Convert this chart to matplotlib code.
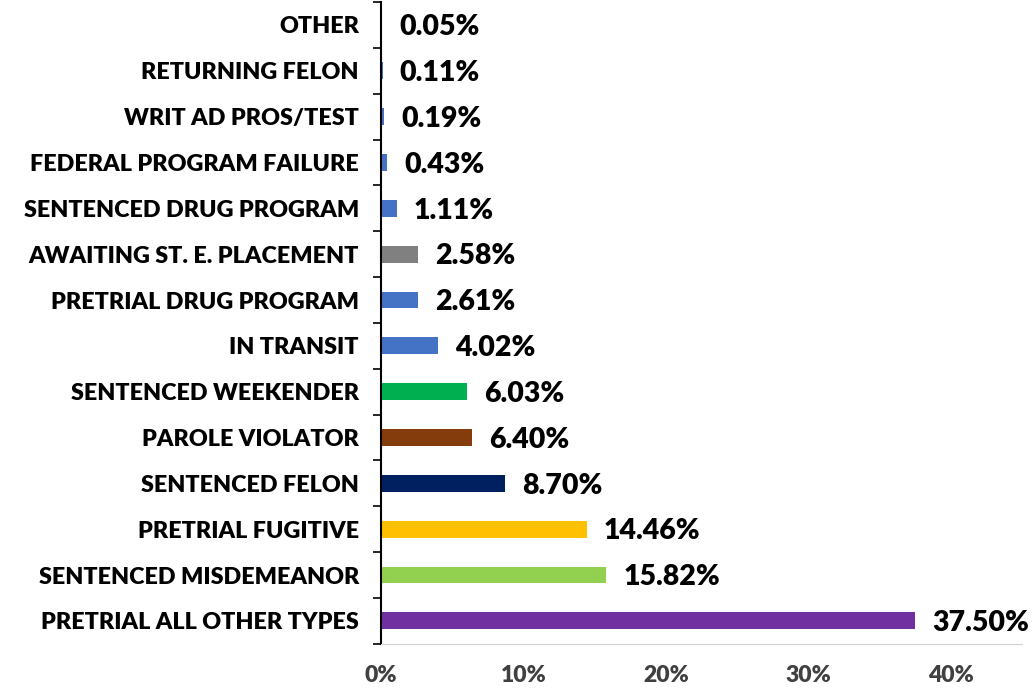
import matplotlib
matplotlib.use('Agg')
import matplotlib.pyplot as plt
from matplotlib.ticker import FixedLocator, PercentFormatter

categories = [
    "PRETRIAL ALL OTHER TYPES", "SENTENCED MISDEMEANOR", "PRETRIAL FUGITIVE",
    "SENTENCED FELON", "PAROLE VIOLATOR", "SENTENCED WEEKENDER", "IN TRANSIT",
    "PRETRIAL DRUG PROGRAM", "AWAITING ST. E. PLACEMENT",
    "SENTENCED DRUG PROGRAM", "FEDERAL PROGRAM FAILURE", "WRIT AD PROS/TEST",
    "RETURNING FELON", "OTHER"]
shares = [37.50, 15.82, 14.46, 8.70, 6.40, 6.03, 4.02, 2.61, 2.58, 1.11,
          0.43, 0.19, 0.11, 0.05]
colors = ['#7030A0', '#92D050', '#FFC000', '#002060', '#843C0C', '#00B050',
          '#4472C4', '#4472C4', '#808080', '#4472C4', '#4472C4', '#4472C4',
          '#4472C4', '#4472C4']
xticks = [0, 10, 20, 30, 40]

plt.rcParams['font.family'] = ['Lato', 'DejaVu Sans']

fig = plt.figure(figsize=(10.33, 6.9), dpi=100)
ax = fig.add_axes([0.369, 0.067, 0.62, 0.93])

pos = list(range(len(categories)))
ax.barh(pos, shares, height=0.37, color=colors)

# value labels
for y, v in zip(pos, shares):
    ax.text(v + 1.2, y - 0.05, f'{v:.2f}%', va='center', ha='left',
            fontsize=20.5, fontweight='heavy', color='black')

ax.set_xlim(0, 45)
ax.set_ylim(-0.5, len(categories) - 0.5)
ax.set_yticks(pos)
ax.set_yticklabels(categories, fontsize=16.8, fontweight='heavy')
ax.yaxis.set_minor_locator(FixedLocator([p - 0.5 for p in pos] + [len(pos) - 0.5]))
ax.tick_params(axis='y', which='major', length=0, pad=16)
ax.tick_params(axis='y', which='minor', length=6, width=1.2, color='black')

ax.set_xticks(xticks)
ax.xaxis.set_major_formatter(PercentFormatter(decimals=0))
ax.tick_params(axis='x', length=0, pad=15, labelsize=16.5, labelcolor='#404040')
for lbl in ax.get_xticklabels():
    lbl.set_fontweight('heavy')

for side in ['top', 'right']:
    ax.spines[side].set_visible(False)
ax.spines['left'].set_linewidth(1.5)
ax.spines['bottom'].set_color('#d0d0d0')
ax.spines['bottom'].set_linewidth(0.8)

fig.savefig('out.png', dpi=100)
